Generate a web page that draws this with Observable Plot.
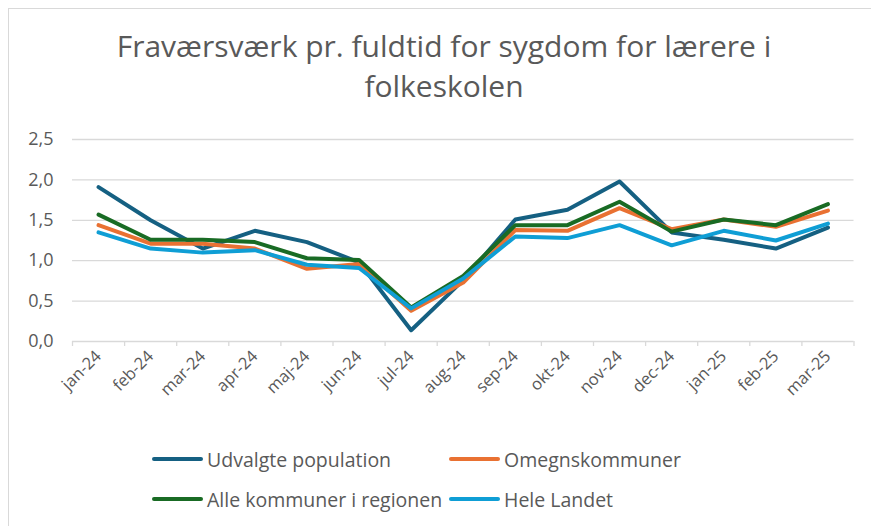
<!DOCTYPE html>
<html>
<head>
<meta charset="utf-8">
<script src="https://cdn.jsdelivr.net/npm/d3@7"></script>
<script src="https://cdn.jsdelivr.net/npm/@observablehq/plot@0.6"></script>
<style>
  html, body { margin: 0; padding: 0; background: #fff; }
  #wrap { position: relative; width: 871px; height: 526px; overflow: hidden; background: #fff; font-family: "Open Sans", sans-serif; }
  #frame { position: absolute; left: 8px; top: 8px; width: 900px; height: 600px; border-top: 1.5px solid #d9d9d9; border-left: 1.5px solid #d9d9d9; }
  #title { position: absolute; left: 8px; width: 872px; top: 26px; text-align: center; font-size: 30px; line-height: 40px; color: #595959; }
  #chart { position: absolute; left: 0; top: 110px; }
  #legend { position: absolute; left: 152px; top: 439px; display: grid; grid-template-columns: 297px auto; grid-auto-rows: 40px; color: #595959; font-size: 19.5px; }
  .item { display: flex; align-items: center; white-space: nowrap; }
  .sw { width: 51px; height: 4px; border-radius: 2px; margin-right: 4px; }
</style>
</head>
<body>
<div id="wrap">
  <div id="frame"></div>
  <div id="title">Fraværsværk pr. fuldtid for sygdom for lærere i<br>folkeskolen</div>
  <div id="chart"></div>
  <div id="legend"></div>
</div>
<script>
const months = ["jan-24","feb-24","mar-24","apr-24","maj-24","jun-24","jul-24","aug-24","sep-24","okt-24","nov-24","dec-24","jan-25","feb-25","mar-25"];
const seriesNames = ["Udvalgte population","Omegnskommuner","Alle kommuner i regionen","Hele Landet"];
const seriesColors = ["#156082","#e97132","#196b24","#0f9ed5"];
const udvalgte = [1.91,1.50,1.15,1.37,1.23,0.98,0.14,0.76,1.51,1.63,1.98,1.35,1.26,1.15,1.41];
const omegn    = [1.44,1.21,1.21,1.15,0.90,0.96,0.38,0.73,1.38,1.37,1.65,1.39,1.51,1.42,1.62];
const alle     = [1.57,1.26,1.26,1.23,1.03,1.01,0.42,0.81,1.44,1.44,1.73,1.36,1.51,1.44,1.70];
const hele     = [1.35,1.15,1.10,1.13,0.95,0.91,0.41,0.78,1.30,1.28,1.44,1.19,1.37,1.25,1.46];
const yTicks = [0,0.5,1,1.5,2,2.5];

const values = [udvalgte, omegn, alle, hele];
const rows = [];
seriesNames.forEach((s, k) => values[k].forEach((v, i) => rows.push({serie: s, i, v})));

const fmt = d => d.toFixed(1).replace(".", ",");
const idx = d3.range(months.length);
const bounds = d3.range(months.length + 1).map(i => i - 0.5);

const chart = Plot.plot({
  width: 871,
  height: 330,
  marginTop: 29,
  marginBottom: 99,
  marginLeft: 72,
  marginRight: 17.5,
  style: {fontFamily: "Open Sans, sans-serif", background: "transparent"},
  x: {type: "linear", domain: [-0.5, months.length - 0.5]},
  y: {domain: [0, 2.5]},
  color: {domain: seriesNames, range: seriesColors},
  marks: [
    Plot.ruleY(yTicks, {stroke: "#d9d9d9", strokeWidth: 1.3}),
    Plot.axisY(yTicks, {tickSize: 0, tickPadding: 19, tickFormat: fmt, fontSize: 18, fill: "#595959", label: null}),
    Plot.axisX(bounds, {tickSize: 5, tickFormat: () => "", stroke: "#d9d9d9", strokeWidth: 1.3, label: null}),
    Plot.axisX(idx, {tickSize: 0, tickPadding: 12, tickRotate: -45, tickFormat: i => months[i], fontSize: 16.5, fill: "#595959", label: null}),
    Plot.line(rows, {x: "i", y: "v", z: "serie", stroke: "serie", strokeWidth: 4, strokeLinejoin: "round", strokeLinecap: "round"})
  ]
});
document.getElementById("chart").appendChild(chart);

const legend = document.getElementById("legend");
seriesNames.forEach((s, k) => {
  const it = document.createElement("div");
  it.className = "item";
  const sw = document.createElement("span");
  sw.className = "sw";
  sw.style.background = seriesColors[k];
  const tx = document.createElement("span");
  tx.textContent = s;
  it.appendChild(sw); it.appendChild(tx);
  legend.appendChild(it);
});
</script>
</body>
</html>
